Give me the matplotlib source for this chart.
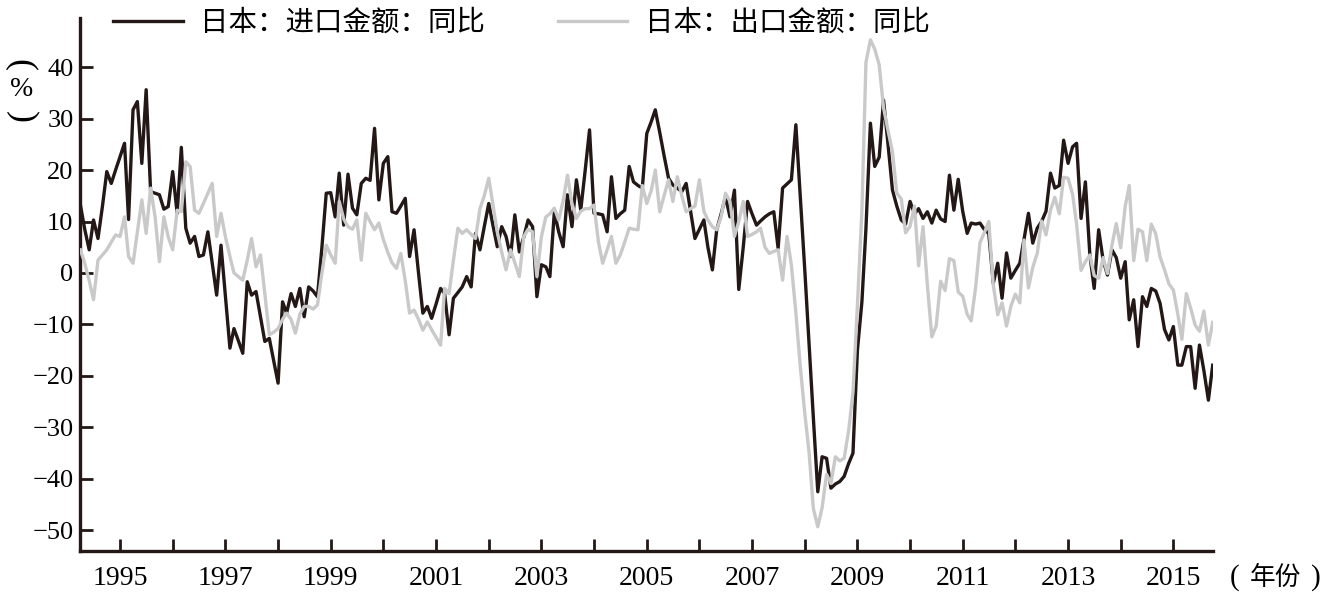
import pandas as pd
import matplotlib
matplotlib.use("Agg")
import matplotlib.pyplot as plt

# monthly YoY growth (%), Apr 1994 .. Oct 2015 on the chart's axis
months = pd.date_range("1994-04-01", periods=259, freq="MS")

imports_yoy = [
    13.2, 8.5, 4.5, 10.3, 6.7, 13.0, 19.7, 17.4, 20.0, 22.6,
    25.2, 10.4, 31.7, 33.3, 21.3, 35.6, 15.8, 15.5, 15.2, 12.4,
    12.9, 19.7, 11.6, 24.4, 8.7, 5.8, 7.1, 3.2, 3.5, 8.0,
    2.0, -4.3, 5.4, -4.5, -14.6, -10.8, -13.2, -15.6, -1.7, -4.3,
    -3.6, -8.5, -13.3, -12.7, -17.0, -21.4, -5.6, -7.8, -4.0, -6.5,
    -3.0, -8.5, -2.7, -3.5, -4.6, 5.0, 15.5, 15.6, 10.9, 19.4,
    9.3, 19.2, 12.6, 11.3, 17.4, 18.4, 18.0, 28.1, 14.2, 21.3,
    22.6, 11.9, 11.6, 13.0, 14.5, 3.2, 8.4, 0.0, -7.8, -6.5,
    -8.8, -6.0, -3.0, -4.0, -12.0, -4.9, -3.8, -2.7, -0.7, -2.7,
    7.7, 4.5, 9.0, 13.5, 9.0, 5.1, 9.0, 7.1, 3.2, 11.3,
    4.1, 7.0, 10.3, 9.0, -4.6, 1.6, 1.2, -0.7, 11.9, 8.0,
    5.1, 15.2, 9.0, 18.1, 12.2, 20.0, 27.8, 11.6, 11.5, 11.3,
    8.0, 18.7, 10.6, 11.5, 12.2, 20.7, 17.7, 17.0, 16.5, 27.1,
    29.4, 31.7, 27.3, 22.8, 18.4, 17.1, 16.5, 15.8, 17.4, 12.0,
    6.7, 8.5, 10.3, 5.0, 0.6, 8.4, 11.5, 14.8, 10.9, 16.1,
    -3.2, 5.0, 13.9, 11.5, 9.3, 10.1, 10.9, 11.5, 11.9, 4.8,
    16.5, 17.3, 18.1, 28.8, 15.0, 1.0, -14.0, -28.0, -42.5, -35.7,
    -36.0, -41.8, -41.0, -40.5, -39.5, -37.0, -35.0, -15.0, -5.6, 8.6,
    29.1, 20.7, 22.5, 33.6, 25.0, 16.1, 13.0, 10.3, 9.5, 13.9,
    11.5, 12.5, 10.6, 11.9, 9.7, 12.2, 10.5, 10.0, 19.0, 12.2,
    18.2, 12.0, 7.7, 9.7, 9.5, 9.7, 8.4, 7.7, -2.0, 1.9,
    -4.9, 3.9, -1.0, 0.5, 1.9, 6.5, 11.6, 5.8, 8.7, 10.0,
    12.0, 19.4, 16.5, 17.0, 25.8, 21.3, 24.5, 25.2, 10.6, 17.7,
    3.5, -3.0, 8.4, 2.5, -0.4, 4.5, 3.0, -1.0, 2.2, -9.1,
    -5.2, -14.3, -4.6, -6.5, -3.0, -3.5, -5.9, -11.0, -13.0, -10.4,
    -17.9, -17.9, -14.3, -14.3, -22.4, -14.0, -19.0, -24.7, -17.9,
]

exports_yoy = [
    4.5, 1.9, -1.5, -5.2, 2.5, 3.5, 4.5, 6.0, 7.4, 7.1,
    10.9, 3.2, 1.9, 8.0, 14.2, 7.7, 16.5, 10.9, 2.2, 10.9,
    7.0, 4.5, 12.2, 11.9, 21.6, 20.7, 12.2, 11.6, 13.5, 15.5,
    17.4, 7.1, 11.6, 7.0, 3.2, 0.0, -0.7, -1.4, 2.5, 6.7,
    1.2, 3.5, -4.0, -12.0, -11.5, -10.8, -9.0, -7.8, -9.0, -11.7,
    -8.0, -6.5, -6.5, -7.0, -6.2, 0.0, 5.4, 3.5, 1.9, 13.9,
    10.5, 9.0, 8.5, 10.3, 2.5, 11.6, 10.0, 8.4, 9.7, 6.5,
    4.0, 2.0, 0.9, 3.8, -1.5, -7.8, -7.2, -9.0, -11.1, -9.5,
    -11.0, -12.5, -14.0, -3.0, -4.0, 2.5, 8.7, 7.7, 8.4, 7.5,
    6.7, 12.5, 15.0, 18.4, 12.9, 8.0, 4.0, 0.6, 4.5, 2.0,
    -0.7, 7.1, 8.5, 8.0, -0.7, 7.0, 10.9, 11.5, 12.6, 10.3,
    14.0, 19.0, 13.5, 10.6, 12.0, 12.5, 12.5, 13.2, 6.0, 1.9,
    4.5, 7.1, 1.9, 3.5, 6.0, 8.7, 8.5, 8.4, 17.0, 13.5,
    16.0, 20.0, 11.9, 15.0, 18.1, 13.9, 18.7, 15.0, 11.9, 12.5,
    13.0, 18.1, 12.0, 10.3, 9.0, 8.4, 11.0, 15.5, 13.9, 7.1,
    10.0, 13.9, 7.1, 7.5, 8.0, 8.7, 5.0, 3.8, 4.2, 4.5,
    -1.4, 7.1, 1.5, -7.7, -18.0, -27.0, -35.0, -45.7, -49.3, -45.6,
    -39.1, -40.9, -35.7, -36.5, -36.0, -30.6, -23.2, -6.2, 12.1, 40.9,
    45.3, 43.5, 40.4, 32.1, 27.7, 23.5, 15.5, 14.4, 7.8, 9.1,
    13.0, 1.4, 9.0, -2.3, -12.4, -10.3, -1.6, -3.4, 2.8, 2.4,
    -3.7, -4.5, -8.0, -9.3, -2.7, 5.9, 7.9, 10.0, -2.3, -8.1,
    -5.8, -10.3, -6.5, -4.1, -5.8, 6.4, -2.9, 1.1, 3.8, 10.1,
    7.4, 12.2, 14.7, 11.5, 18.6, 18.4, 15.3, 9.5, 0.5, 2.2,
    3.5, -0.5, -1.0, 3.0, -0.1, 5.4, 9.6, 4.9, 12.9, 17.0,
    2.4, 8.5, 8.0, 2.4, 9.5, 7.6, 3.1, 0.6, -2.1, -3.3,
    -8.0, -12.9, -4.0, -6.8, -10.1, -11.3, -7.4, -14.0, -9.6,
]

years = list(range(1995, 2016))
year_labels = [str(y) if y % 2 == 1 else "" for y in years]
y_ticks = list(range(-50, 41, 10))

dark = "#231815"
light = "#c9c9c9"
num_font = "Liberation Serif"
cjk = ["Noto Sans CJK SC", "DejaVu Sans"]

fig = plt.figure(figsize=(13.29, 6.0), dpi=100)
ax = fig.add_axes([0.0605, 0.0817, 0.852, 0.888])

ax.plot(months, imports_yoy, color=dark, lw=2.4, label="日本：进口金额：同比", zorder=2)
ax.plot(months, exports_yoy, color=light, lw=2.4, label="日本：出口金额：同比", zorder=3)

ax.set_xlim(months[0], months[-1])
ax.set_ylim(-54.0, 49.5)

ax.set_xticks([pd.Timestamp(f"{y}-01-01") for y in years])
ax.set_xticklabels(year_labels, family=num_font, fontsize=20)
ax.set_yticks(y_ticks)
ax.set_yticklabels([f"{v}".replace("-", "\u2212") for v in y_ticks], family=num_font, fontsize=19)

ax.tick_params(axis="both", direction="in", length=9, width=2, color=dark, labelcolor="black")
ax.tick_params(axis="x", pad=11)
ax.tick_params(axis="y", pad=5)

for side in ["top", "right"]:
    ax.spines[side].set_visible(False)
for side in ["left", "bottom"]:
    ax.spines[side].set_linewidth(2.4)
    ax.spines[side].set_color(dark)

# vertical unit label "（%）" stacked at the top left
fig.text(0.0165, 1 - 63 / 600, ")", family=num_font, fontsize=26, rotation=90,
         ha="center", va="center")
fig.text(0.0165, 1 - 89 / 600, "%", family=num_font, fontsize=20,
         ha="center", va="center")
fig.text(0.0165, 1 - 115 / 600, "(", family=num_font, fontsize=26, rotation=90,
         ha="center", va="center")

# unit label for the x axis: "（年份）"
y_unit = 1 - 578 / 600
fig.text(1235 / 1329, y_unit, "(", family=num_font, fontsize=21, ha="center", va="center")
fig.text(1276 / 1329, y_unit, "年份", family=cjk, fontsize=18.5, ha="center", va="center")
fig.text(1316 / 1329, y_unit, ")", family=num_font, fontsize=21, ha="center", va="center")

leg = fig.legend(loc="center left", bbox_to_anchor=(0.0745, 0.962), ncol=2,
                 frameon=False, borderpad=0, handlelength=2.45, handletextpad=0.6,
                 columnspacing=2.55, prop={"family": cjk, "size": 20.5})

plt.savefig("out.png", dpi=100)
